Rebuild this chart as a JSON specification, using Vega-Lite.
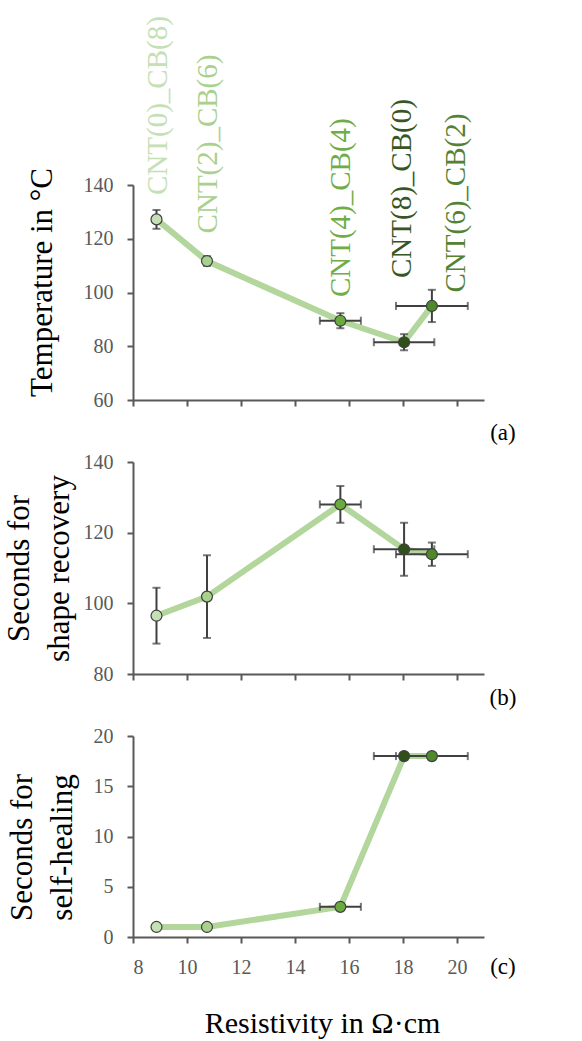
{
  "$schema": "https://vega.github.io/schema/vega-lite/v6.json",
  "autosize": {"type": "none"},
  "padding": {"left": 133, "top": 185, "right": 98, "bottom": 856},
  "background": "white",
  "bounds": "flush",
  "spacing": 62,
  "config": {
    "font": "Liberation Serif",
    "view": {"stroke": null},
    "axis": {
      "domainColor": "#595959", "domainWidth": 2,
      "tickColor": "#595959", "tickWidth": 2, "tickSize": 6,
      "labelColor": "#595959", "labelFont": "Liberation Serif", "labelFontSize": 20, "labelPadding": 14,
      "titleFont": "Liberation Serif", "titleFontSize": 31, "titleFontWeight": "normal", "titleColor": "black",
      "grid": false
    }
  },
  "datasets": {
    "temp": [
      {"sample": "CNT(0)_CB(8)", "x": 8.87, "y": 127.2, "xerr": 0, "yerr": 3.5},
      {"sample": "CNT(2)_CB(6)", "x": 10.74, "y": 111.7, "xerr": 0, "yerr": 1.8},
      {"sample": "CNT(4)_CB(4)", "x": 15.68, "y": 89.5, "xerr": 0.76, "yerr": 2.8},
      {"sample": "CNT(8)_CB(0)", "x": 18.04, "y": 81.5, "xerr": 1.12, "yerr": 3.0},
      {"sample": "CNT(6)_CB(2)", "x": 19.07, "y": 95.0, "xerr": 1.33, "yerr": 6.0}
    ],
    "shape": [
      {"sample": "CNT(0)_CB(8)", "x": 8.87, "y": 96.5, "xerr": 0, "yerr": 7.9},
      {"sample": "CNT(2)_CB(6)", "x": 10.74, "y": 101.9, "xerr": 0, "yerr": 11.7},
      {"sample": "CNT(4)_CB(4)", "x": 15.68, "y": 128.0, "xerr": 0.76, "yerr": 5.2},
      {"sample": "CNT(8)_CB(0)", "x": 18.04, "y": 115.3, "xerr": 1.12, "yerr": 7.5},
      {"sample": "CNT(6)_CB(2)", "x": 19.07, "y": 113.9, "xerr": 1.33, "yerr": 3.3}
    ],
    "heal": [
      {"sample": "CNT(0)_CB(8)", "x": 8.87, "y": 1, "xerr": 0, "yerr": 0},
      {"sample": "CNT(2)_CB(6)", "x": 10.74, "y": 1, "xerr": 0, "yerr": 0},
      {"sample": "CNT(4)_CB(4)", "x": 15.68, "y": 3, "xerr": 0.76, "yerr": 0},
      {"sample": "CNT(8)_CB(0)", "x": 18.04, "y": 18, "xerr": 1.12, "yerr": 0},
      {"sample": "CNT(6)_CB(2)", "x": 19.07, "y": 18, "xerr": 1.33, "yerr": 0}
    ],
    "labels": [
      {"sample": "CNT(0)_CB(8)", "x": 8.92, "y": 136.3},
      {"sample": "CNT(2)_CB(6)", "x": 10.77, "y": 122.0},
      {"sample": "CNT(4)_CB(4)", "x": 15.69, "y": 98.3},
      {"sample": "CNT(8)_CB(0)", "x": 17.95, "y": 105.4},
      {"sample": "CNT(6)_CB(2)", "x": 19.95, "y": 100.0}
    ]
  },
  "vconcat": [
    {
      "width": 351, "height": 215,
      "encoding": {
        "x": {"field": "x", "type": "quantitative", "scale": {"domain": [8, 21], "nice": false, "zero": false},
              "axis": {"values": [8, 10, 12, 14, 16, 18, 20], "labels": false, "title": null}},
        "y": {"field": "y", "type": "quantitative", "scale": {"domain": [60, 140], "nice": false, "zero": false},
              "axis": {"values": [60, 80, 100, 120, 140], "title": "Temperature  in  \u00b0C", "titlePadding": 25, "titleY": 97}}
      },
      "layer": [
        {"data": {"name": "temp"}, "mark": {"type": "line", "color": "#b3d69c", "strokeWidth": 6}},
        {"data": {"name": "temp"}, "transform": [{"filter": "datum.yerr > 0"}],
         "mark": {"type": "errorbar", "ticks": true, "size": 8, "thickness": 2, "color": "#404040"},
         "encoding": {"yError": {"field": "yerr"}}},
        {"data": {"name": "temp"}, "transform": [{"filter": "datum.xerr > 0"}],
         "mark": {"type": "errorbar", "ticks": true, "size": 8, "thickness": 2, "color": "#404040"},
         "encoding": {"xError": {"field": "xerr"}}},
        {"data": {"name": "temp"}, "mark": {"type": "point", "filled": true, "size": 120, "stroke": "#404040", "strokeWidth": 1.2, "opacity": 1},
         "encoding": {"fill": {"field": "sample", "type": "nominal", "legend": null,
           "scale": {"domain": ["CNT(0)_CB(8)", "CNT(2)_CB(6)", "CNT(4)_CB(4)", "CNT(8)_CB(0)", "CNT(6)_CB(2)"],
                     "range": ["#c5e0b4", "#a9d18e", "#6aaa40", "#2f5019", "#4e8a2a"]}}}},
        {"data": {"name": "labels"}, "mark": {"type": "text", "angle": 270, "align": "left", "baseline": "middle", "fontSize": 29, "font": "Liberation Serif"},
         "encoding": {"text": {"field": "sample"},
           "color": {"field": "sample", "type": "nominal", "legend": null,
             "scale": {"domain": ["CNT(0)_CB(8)", "CNT(2)_CB(6)", "CNT(4)_CB(4)", "CNT(8)_CB(0)", "CNT(6)_CB(2)"],
                       "range": ["#c5e0b4", "#a9d18e", "#70ad47", "#375623", "#548235"]}}}},
        {"data": {"values": [{"x": 21.7, "y": 47.7, "t": "(a)"}]},
         "mark": {"type": "text", "fontSize": 23, "font": "Liberation Serif", "color": "black", "align": "center", "baseline": "middle"},
         "encoding": {"text": {"field": "t"}}}
      ]
    },
    {
      "width": 351, "height": 212,
      "encoding": {
        "x": {"field": "x", "type": "quantitative", "scale": {"domain": [8, 21], "nice": false, "zero": false},
              "axis": {"values": [8, 10, 12, 14, 16, 18, 20], "labels": false, "title": null}},
        "y": {"field": "y", "type": "quantitative", "scale": {"domain": [80, 140], "nice": false, "zero": false},
              "axis": {"values": [80, 100, 120, 140], "title": ["Seconds  for", "shape recovery"], "titleLineHeight": 40, "titlePadding": 8}}
      },
      "layer": [
        {"data": {"name": "shape"}, "mark": {"type": "line", "color": "#b3d69c", "strokeWidth": 6}},
        {"data": {"name": "shape"}, "transform": [{"filter": "datum.yerr > 0"}],
         "mark": {"type": "errorbar", "ticks": true, "size": 8, "thickness": 2, "color": "#404040"},
         "encoding": {"yError": {"field": "yerr"}}},
        {"data": {"name": "shape"}, "transform": [{"filter": "datum.xerr > 0"}],
         "mark": {"type": "errorbar", "ticks": true, "size": 8, "thickness": 2, "color": "#404040"},
         "encoding": {"xError": {"field": "xerr"}}},
        {"data": {"name": "shape"}, "mark": {"type": "point", "filled": true, "size": 120, "stroke": "#404040", "strokeWidth": 1.2, "opacity": 1},
         "encoding": {"fill": {"field": "sample", "type": "nominal", "legend": null,
           "scale": {"domain": ["CNT(0)_CB(8)", "CNT(2)_CB(6)", "CNT(4)_CB(4)", "CNT(8)_CB(0)", "CNT(6)_CB(2)"],
                     "range": ["#c5e0b4", "#a9d18e", "#6aaa40", "#2f5019", "#4e8a2a"]}}}},
        {"data": {"values": [{"x": 21.7, "y": 73.2, "t": "(b)"}]},
         "mark": {"type": "text", "fontSize": 23, "font": "Liberation Serif", "color": "black", "align": "center", "baseline": "middle"},
         "encoding": {"text": {"field": "t"}}}
      ]
    },
    {
      "width": 351, "height": 201,
      "encoding": {
        "x": {"field": "x", "type": "quantitative", "scale": {"domain": [8, 21], "nice": false, "zero": false},
              "axis": {"values": [8, 10, 12, 14, 16, 18, 20], "labelPadding": 14, "title": "Resistivity in \u03a9\u00b7cm", "titleFontSize": 30, "titlePadding": 31, "titleX": 189}},
        "y": {"field": "y", "type": "quantitative", "scale": {"domain": [0, 20], "nice": false, "zero": false},
              "axis": {"values": [0, 5, 10, 15, 20], "title": ["Seconds  for", "self-healing"], "titleLineHeight": 40, "titlePadding": 15, "titleY": 111}}
      },
      "layer": [
        {"data": {"name": "heal"}, "mark": {"type": "line", "color": "#b3d69c", "strokeWidth": 6}},
        {"data": {"name": "heal"}, "transform": [{"filter": "datum.xerr > 0"}],
         "mark": {"type": "errorbar", "ticks": true, "size": 8, "thickness": 2, "color": "#404040"},
         "encoding": {"xError": {"field": "xerr"}}},
        {"data": {"name": "heal"}, "mark": {"type": "point", "filled": true, "size": 120, "stroke": "#404040", "strokeWidth": 1.2, "opacity": 1},
         "encoding": {"fill": {"field": "sample", "type": "nominal", "legend": null,
           "scale": {"domain": ["CNT(0)_CB(8)", "CNT(2)_CB(6)", "CNT(4)_CB(4)", "CNT(8)_CB(0)", "CNT(6)_CB(2)"],
                     "range": ["#c5e0b4", "#a9d18e", "#6aaa40", "#2f5019", "#4e8a2a"]}}}},
        {"data": {"values": [{"x": 21.7, "y": -3.0, "t": "(c)"}]},
         "mark": {"type": "text", "fontSize": 23, "font": "Liberation Serif", "color": "black", "align": "center", "baseline": "middle"},
         "encoding": {"text": {"field": "t"}}}
      ]
    }
  ]
}
